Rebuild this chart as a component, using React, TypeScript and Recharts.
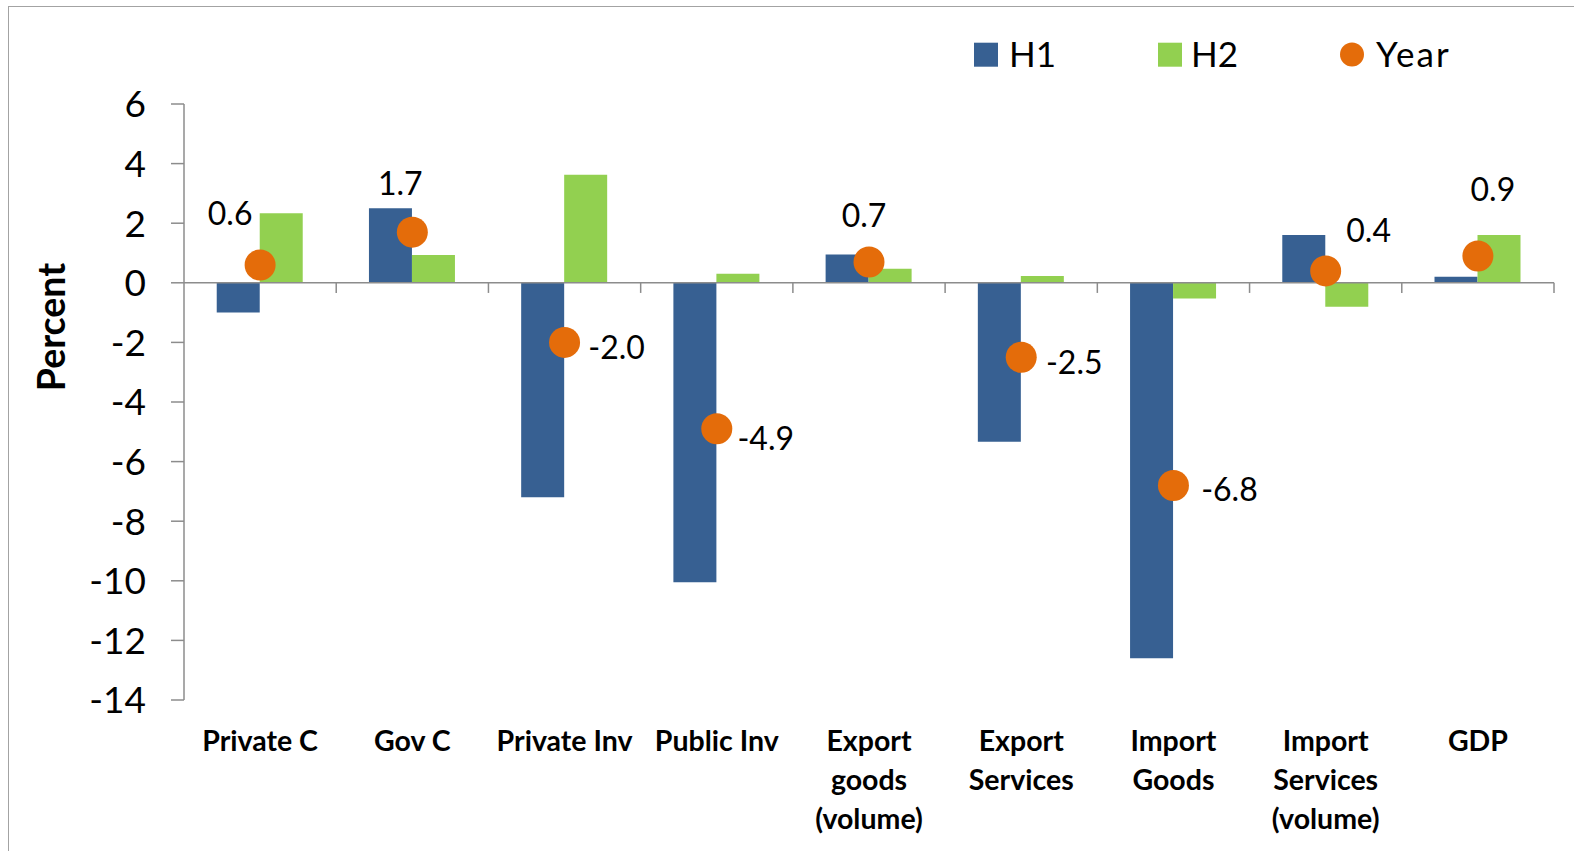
import React from 'react';
import {
  ComposedChart,
  Bar,
  Line,
  XAxis,
  YAxis,
  ReferenceLine,
  LabelList,
  Legend,
} from 'recharts';

// ---------- data ----------
const CATEGORIES = [
  'Private C',
  'Gov C',
  'Private Inv',
  'Public Inv',
  'Export\ngoods\n(volume)',
  'Export\nServices',
  'Import\nGoods',
  'Import\nServices\n(volume)',
  'GDP',
];
const H1 = [-1.0, 2.5, -7.2, -10.05, 0.95, -5.33, -12.6, 1.6, 0.2];
const H2 = [2.33, 0.93, 3.63, 0.3, 0.47, 0.23, -0.53, -0.8, 1.6];
const YEAR = [0.6, 1.7, -2.0, -4.9, 0.7, -2.5, -6.8, 0.4, 0.9];
const Y_TICKS = [6, 4, 2, 0, -2, -4, -6, -8, -10, -12, -14];
const SERIES_NAMES = ['H1', 'H2', 'Year'];

// ---------- layout / style constants ----------
const W = 1574;
const H = 851;
const FONT = 'Lato, "Open Sans", sans-serif';
const C_H1 = '#376092';
const C_H2 = '#92D050';
const C_YEAR = '#E46C0A';
const AXIS = '#8c8c8c';
// label offsets (text centre relative to dot centre), px
const LABEL_OFFSETS: [number, number][] = [
  [-30, -51],
  [-12, -49],
  [52, 5],
  [49, 10],
  [-5, -46],
  [53, 5],
  [56, 4],
  [43, -40],
  [15, -66],
];
const BOUNDARY_TICK_LEN = 0.34; // in data units (≈10px)
const BOUNDARIES = [1, 2, 3, 4, 5, 6, 7, 8, 9];

const data = CATEGORIES.map((c, i) => ({
  cat: c,
  h1: H1[i],
  h2: H2[i],
  year: YEAR[i],
  b: i + 0.5,
}));

const YTick = (props: any) => {
  const { x, y, payload } = props;
  return (
    <text
      x={x}
      y={y + 13.3}
      textAnchor="end"
      fontFamily={FONT}
      fontSize={37}
      fill="#000"
    >
      {String(payload.value)}
    </text>
  );
};

const XTick = (props: any) => {
  const { x, y, payload } = props;
  const lines = String(payload.value).split('\n');
  return (
    <text
      textAnchor="middle"
      fontFamily={FONT}
      fontWeight={700}
      fontSize={28.5}
      fill="#000"
    >
      {lines.map((l, i) => (
        <tspan key={i} x={x} y={y + 50.5 + i * 39.1}>
          {l}
        </tspan>
      ))}
    </text>
  );
};

const YearLabel = (props: any) => {
  const { x, y, value, index } = props;
  const cx = x ?? props.viewBox?.x;
  const cy = y ?? props.viewBox?.y;
  const off = LABEL_OFFSETS[index] || [0, -45];
  return (
    <text
      x={cx + off[0]}
      y={cy + off[1] + 11.5}
      textAnchor="middle"
      fontFamily={FONT}
      fontSize={32}
      fill="#000"
    >
      {Number(value).toFixed(1)}
    </text>
  );
};

const LegendContent = () => (
  <svg width={W} height={100} style={{ display: 'block' }}>
    <rect x={974} y={42.7} width={24} height={24} fill={C_H1} />
    <text x={1009} y={66.7} fontFamily={FONT} fontSize={35} fill="#000">
      {SERIES_NAMES[0]}
    </text>
    <rect x={1158} y={42.7} width={24} height={24} fill={C_H2} />
    <text x={1191} y={66.7} fontFamily={FONT} fontSize={35} fill="#000">
      {SERIES_NAMES[1]}
    </text>
    <circle cx={1352} cy={54.5} r={12} fill={C_YEAR} />
    <text
      x={1376}
      y={66.7}
      fontFamily={FONT}
      fontSize={35}
      letterSpacing={2}
      fill="#000"
    >
      {SERIES_NAMES[2]}
    </text>
  </svg>
);

const YLabel = () => (
  <text
    x={65}
    y={327}
    transform="rotate(-90, 65, 327)"
    textAnchor="middle"
    fontFamily={FONT}
    fontWeight={700}
    fontSize={37.5}
    fill="#000"
  >
    Percent
  </text>
);

export default function App() {
  return (
    <div
      style={{
        position: 'fixed',
        left: 0,
        top: 0,
        width: W,
        height: H,
        overflow: 'hidden',
        background: '#fff',
      }}
    >
      <div
        style={{
          position: 'absolute',
          left: 8,
          top: 6,
          width: 1700,
          height: 1000,
          borderLeft: '1.5px solid #a3a3a3',
          borderTop: '1.5px solid #a3a3a3',
        }}
      />
      <div style={{ position: 'absolute', left: 0, top: 0 }}>
        <ComposedChart
          width={W}
          height={H}
          data={data}
          margin={{ top: 104, right: 20, bottom: 0, left: 0 }}
          barCategoryGap="21.5%"
          barGap={0}
        >
          <XAxis
            dataKey="cat"
            interval={0}
            tickLine={false}
            axisLine={false}
            tickSize={0}
            tickMargin={0}
            height={151}
            tick={<XTick />}
          />
          <XAxis
            xAxisId="b"
            type="number"
            dataKey="b"
            domain={[0, 9]}
            hide
          />
          <YAxis
            domain={[-14, 6]}
            ticks={Y_TICKS}
            interval={0}
            width={184}
            tickSize={13}
            tickMargin={25}
            tick={<YTick />}
            axisLine={{ stroke: AXIS, strokeWidth: 1.5 }}
            tickLine={{ stroke: AXIS, strokeWidth: 1.5 }}
            label={<YLabel />}
            allowDataOverflow
          />
          <Legend
            layout="vertical"
            align="center"
            verticalAlign="middle"
            wrapperStyle={{ position: 'absolute', top: 0, left: 0, width: W, height: 100 }}
            content={() => <LegendContent />}
          />
          <Bar dataKey="h1" name="H1" fill={C_H1} isAnimationActive={false} />
          <Bar dataKey="h2" name="H2" fill={C_H2} isAnimationActive={false} />
          <ReferenceLine y={0} stroke={AXIS} strokeWidth={1.5} />
          {BOUNDARIES.map((bx) => (
            <ReferenceLine
              key={bx}
              xAxisId="b"
              segment={[
                { x: bx, y: 0 },
                { x: bx, y: -BOUNDARY_TICK_LEN },
              ]}
              stroke={AXIS}
              strokeWidth={1.5}
            />
          ))}
          <Line
            dataKey="year"
            name="Year"
            stroke="none"
            dot={{ r: 15.5, fill: C_YEAR, stroke: 'none' }}
            activeDot={false}
            isAnimationActive={false}
          >
            <LabelList dataKey="year" content={<YearLabel />} />
          </Line>
        </ComposedChart>
      </div>
    </div>
  );
}
